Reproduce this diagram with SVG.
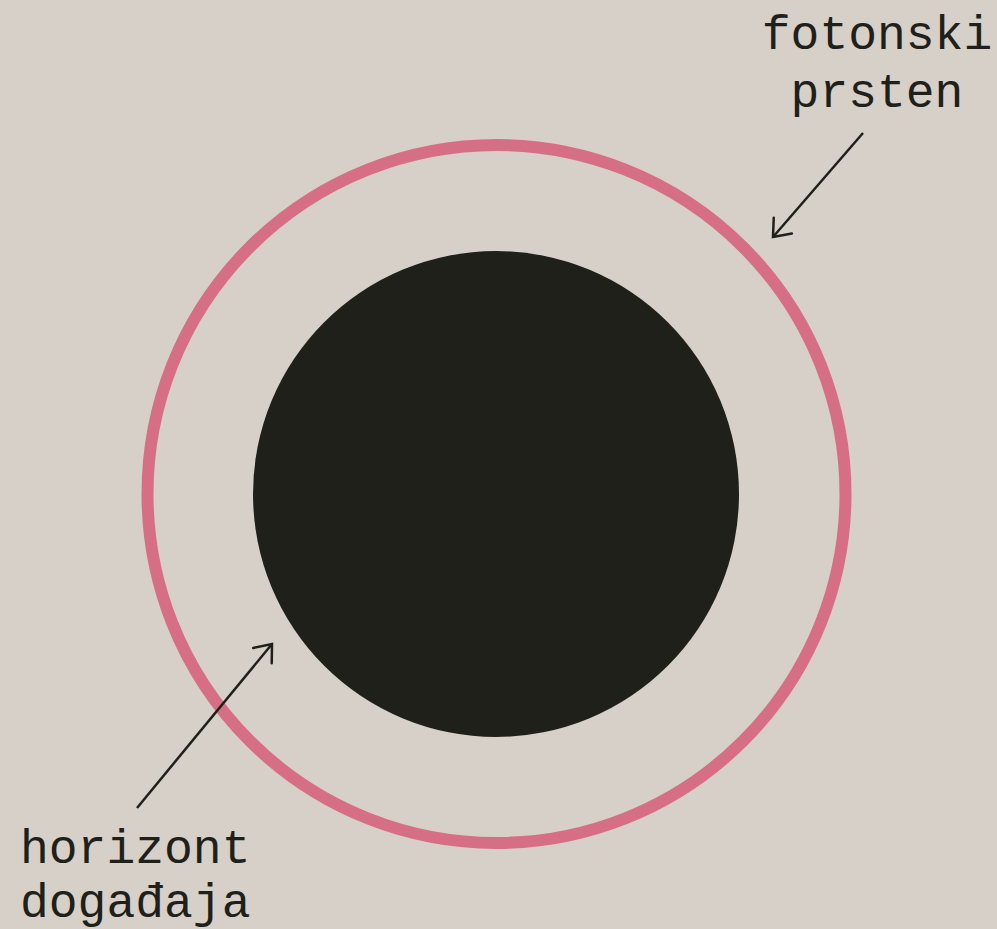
<svg xmlns="http://www.w3.org/2000/svg" width="997" height="929" viewBox="0 0 997 929">
<defs>
<style>
.lbl{font-family:"Liberation Mono","DejaVu Sans Mono",monospace;font-size:48px;fill:#20201b}
.con{stroke:#20201b;stroke-width:2.5;fill:none}
</style>
<marker id="arr" markerUnits="userSpaceOnUse" markerWidth="30" markerHeight="30" viewBox="-20 -15 30 30" refX="0" refY="0" orient="auto">
<path d="M-15,-12 L0,0 L-15,12" fill="none" stroke="#20201b" stroke-width="2.5" stroke-linecap="round" stroke-linejoin="miter"/>
</marker>
</defs>
<rect width="997" height="929" fill="#d6d0c8"/>
<g id="photon-ring">
<circle cx="496.5" cy="494" r="349" fill="none" stroke="#d66f86" stroke-width="12"/>
</g>
<g id="event-horizon">
<circle cx="496" cy="494" r="243" fill="#20201b"/>
</g>
<g id="connectors">
<line class="con" x1="863" y1="133" x2="773" y2="237" marker-end="url(#arr)"/>
<line class="con" x1="137" y1="808" x2="272" y2="644" marker-end="url(#arr)"/>
</g>
<g id="label-photon">
<text class="lbl" x="877" y="49" text-anchor="middle">fotonski</text>
<text class="lbl" x="877" y="107" text-anchor="middle">prsten</text>
</g>
<g id="label-horizon">
<text class="lbl" x="20" y="863">horizont</text>
<text class="lbl" x="20" y="917">događaja</text>
</g>
</svg>
